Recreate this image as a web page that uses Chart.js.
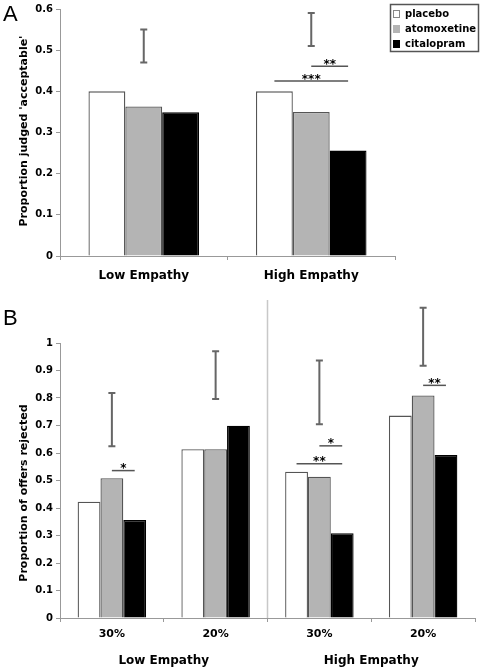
<!DOCTYPE html>
<html lang="en">
<head>
<meta charset="UTF-8">
<title>Empathy and drug effects</title>
<script src="https://cdn.jsdelivr.net/npm/chart.js@4.4.0/dist/chart.umd.min.js"></script>
<style>
  body { margin: 0; background: #fff; }
  #wrap { position: relative; width: 483px; height: 669px; }
  canvas { position: absolute; left: 0; }
  #chartA { top: 0; }
  #chartB { top: 300px; }
  .panel { position: absolute; left: 3px; font-family: 'Liberation Sans', Arial, sans-serif; font-size: 22px; line-height: 1; }
</style>
</head>
<body>
<div id="wrap">
  <canvas id="chartA" width="483" height="300"></canvas>
  <canvas id="chartB" width="483" height="369"></canvas>
  <div class="panel" style="top:3px">A</div>
  <div class="panel" style="top:307px">B</div>
</div>

<script>
// --- data ---
const seriesNames = ['placebo', 'atomoxetine', 'citalopram'];

// panel A
const groupsA = ['Low Empathy', 'High Empathy'];
const placeboA = [0.400, 0.400];
const atomoxA = [0.363, 0.350];
const citalA = [0.349, 0.256];
const errLowA = [0.470, 0.510];
const errHighA = [0.550, 0.590];
const yTicksA = [0, 0.1, 0.2, 0.3, 0.4, 0.5, 0.6];
const sigA = [
  { cat: 1, from: 1, to: 2, y: 0.461, label: '**' },
  { cat: 1, from: 0, to: 2, y: 0.425, label: '***' }
];

// panel B
const offersB = ['30%', '20%', '30%', '20%'];
const groupsB = ['Low Empathy', 'High Empathy'];
const placeboB = [0.423, 0.614, 0.532, 0.736];
const atomoxB = [0.508, 0.614, 0.514, 0.809];
const citalB = [0.356, 0.699, 0.308, 0.593];
const errLowB = [0.625, 0.796, 0.705, 0.917];
const errHighB = [0.818, 0.970, 0.936, 1.128];
const yTicksB = [0, 0.1, 0.2, 0.3, 0.4, 0.5, 0.6, 0.7, 0.8, 0.9, 1];
const sigB = [
  { cat: 0, from: 1, to: 2, y: 0.536, label: '*' },
  { cat: 2, from: 1, to: 2, y: 0.626, label: '*' },
  { cat: 2, from: 0, to: 2, y: 0.561, label: '**' },
  { cat: 3, from: 1, to: 2, y: 0.846, label: '**' }
];

// --- style ---
Chart.defaults.font.family = "'DejaVu Sans', Verdana, sans-serif";
Chart.defaults.font.weight = 'bold';
Chart.defaults.color = '#000';

const fills = ['#ffffff', '#b4b4b4', '#000000'];
const edges = ['#555555', '#555555', '#000000'];
const axisGray = '#999999';

function barSets(values) {
  return values.map((v, i) => ({
    label: seriesNames[i],
    data: v,
    backgroundColor: fills[i],
    borderColor: edges[i],
    borderWidth: 1.3,
    inflateAmount: 0,
    categoryPercentage: 0.66,
    barPercentage: 1
  }));
}

// error bars, significance lines and optional divider
function makeExtras(errLow, errHigh, sig, divider) {
  return {
    id: 'extras',
    afterDatasetsDraw(chart) {
      const ctx = chart.ctx, x = chart.scales.x, y = chart.scales.y;
      ctx.save();
      if (divider != null) {
        const dx = (x.getPixelForValue(divider) + x.getPixelForValue(divider + 1)) / 2;
        ctx.strokeStyle = '#c8c8c8';
        ctx.lineWidth = 1.5;
        ctx.beginPath();
        ctx.moveTo(dx, 0);
        ctx.lineTo(dx, chart.chartArea.bottom);
        ctx.stroke();
      }
      ctx.strokeStyle = '#666';
      ctx.lineWidth = 2;
      errLow.forEach((lo, i) => {
        const cx = x.getPixelForValue(i);
        const yl = y.getPixelForValue(lo), yh = y.getPixelForValue(errHigh[i]);
        ctx.beginPath();
        ctx.moveTo(cx, yl); ctx.lineTo(cx, yh);
        ctx.moveTo(cx - 3.5, yl); ctx.lineTo(cx + 3.5, yl);
        ctx.moveTo(cx - 3.5, yh); ctx.lineTo(cx + 3.5, yh);
        ctx.stroke();
      });
      ctx.strokeStyle = '#555';
      ctx.lineWidth = 1.5;
      ctx.fillStyle = '#000';
      ctx.font = "bold 12px 'DejaVu Sans'";
      ctx.textAlign = 'center';
      ctx.textBaseline = 'alphabetic';
      sig.forEach(s => {
        const x0 = chart.getDatasetMeta(s.from).data[s.cat].x;
        const x1 = chart.getDatasetMeta(s.to).data[s.cat].x;
        const py = y.getPixelForValue(s.y);
        ctx.beginPath();
        ctx.moveTo(x0, py); ctx.lineTo(x1, py);
        ctx.stroke();
        ctx.fillText(s.label, (x0 + x1) / 2, py + 1.5);
      });
      ctx.restore();
    }
  };
}

function makeYTitle(text, cx, cy) {
  return {
    id: 'yTitle',
    afterDraw(chart) {
      const ctx = chart.ctx;
      ctx.save();
      ctx.translate(cx, cy);
      ctx.rotate(-Math.PI / 2);
      ctx.font = "bold 11px 'DejaVu Sans'";
      ctx.fillStyle = '#000';
      ctx.textAlign = 'center';
      ctx.textBaseline = 'middle';
      ctx.fillText(text, 0, 0);
      ctx.restore();
    }
  };
}

// boxed legend at the top right of panel A
const boxLegend = {
  id: 'boxLegend',
  afterDraw(chart) {
    const ctx = chart.ctx;
    ctx.save();
    ctx.strokeStyle = '#555';
    ctx.lineWidth = 1.5;
    ctx.strokeRect(390.5, 4.5, 88, 47);
    ctx.font = "bold 10px 'DejaVu Sans'";
    ctx.textBaseline = 'middle';
    chart.data.datasets.forEach((ds, i) => {
      const cy = 14 + i * 15;
      ctx.fillStyle = ds.backgroundColor;
      ctx.fillRect(393, cy - 4, 7, 8);
      ctx.strokeStyle = '#888';
      ctx.lineWidth = 1;
      if (i === 0) ctx.strokeRect(393.5, cy - 3.5, 6, 7);
      ctx.fillStyle = '#000';
      ctx.fillText(ds.label, 405, cy);
    });
    ctx.restore();
  }
};

function yScale(max, ticks) {
  return {
    min: 0, max: max,
    afterBuildTicks: s => { s.ticks = ticks.map(v => ({ value: v })); },
    grid: { drawOnChartArea: false, tickLength: 4, color: axisGray },
    border: { color: axisGray },
    ticks: { font: { size: 10 }, padding: 3, callback: v => String(v) },
    afterFit: s => { s.width = 60; }
  };
}

// --- panel A ---
new Chart(document.getElementById('chartA'), {
  type: 'bar',
  data: { labels: groupsA, datasets: barSets([placeboA, atomoxA, citalA]) },
  options: {
    responsive: false,
    animation: false,
    devicePixelRatio: 1,
    layout: { padding: { left: 0, right: 88, top: 6, bottom: 0 } },
    plugins: { legend: { display: false }, tooltip: { enabled: false } },
    scales: {
      x: {
        grid: { drawOnChartArea: false, tickLength: 4, color: axisGray },
        border: { color: axisGray },
        ticks: { font: { size: 12 }, padding: 9 },
        afterFit: s => { s.height = 44; }
      },
      y: yScale(0.6, yTicksA)
    }
  },
  plugins: [makeExtras(errLowA, errHighA, sigA, null), boxLegend,
            makeYTitle("Proportion judged 'acceptable'", 24, 131)]
});

// --- panel B ---
new Chart(document.getElementById('chartB'), {
  type: 'bar',
  data: { labels: offersB, datasets: barSets([placeboB, atomoxB, citalB]) },
  options: {
    responsive: false,
    animation: false,
    devicePixelRatio: 1,
    layout: { padding: { left: 0, right: 8, top: 43, bottom: 0 } },
    plugins: { legend: { display: false }, tooltip: { enabled: false } },
    scales: {
      x: {
        weight: 0,
        grid: { drawOnChartArea: false, tickLength: 4, color: axisGray },
        border: { color: axisGray },
        ticks: { font: { size: 11 }, padding: 6 },
        afterFit: s => { s.height = 28; }
      },
      xGroup: {
        type: 'category',
        position: 'bottom',
        weight: 1,
        labels: groupsB,
        offset: true,
        grid: { display: false, drawTicks: false },
        border: { display: false },
        ticks: { font: { size: 12 }, padding: 8 },
        afterFit: s => { s.height = 23; }
      },
      y: yScale(1, yTicksB)
    }
  },
  plugins: [makeExtras(errLowB, errHighB, sigB, 1),
            makeYTitle('Proportion of offers rejected', 24, 193)]
});
</script>
</body>
</html>
